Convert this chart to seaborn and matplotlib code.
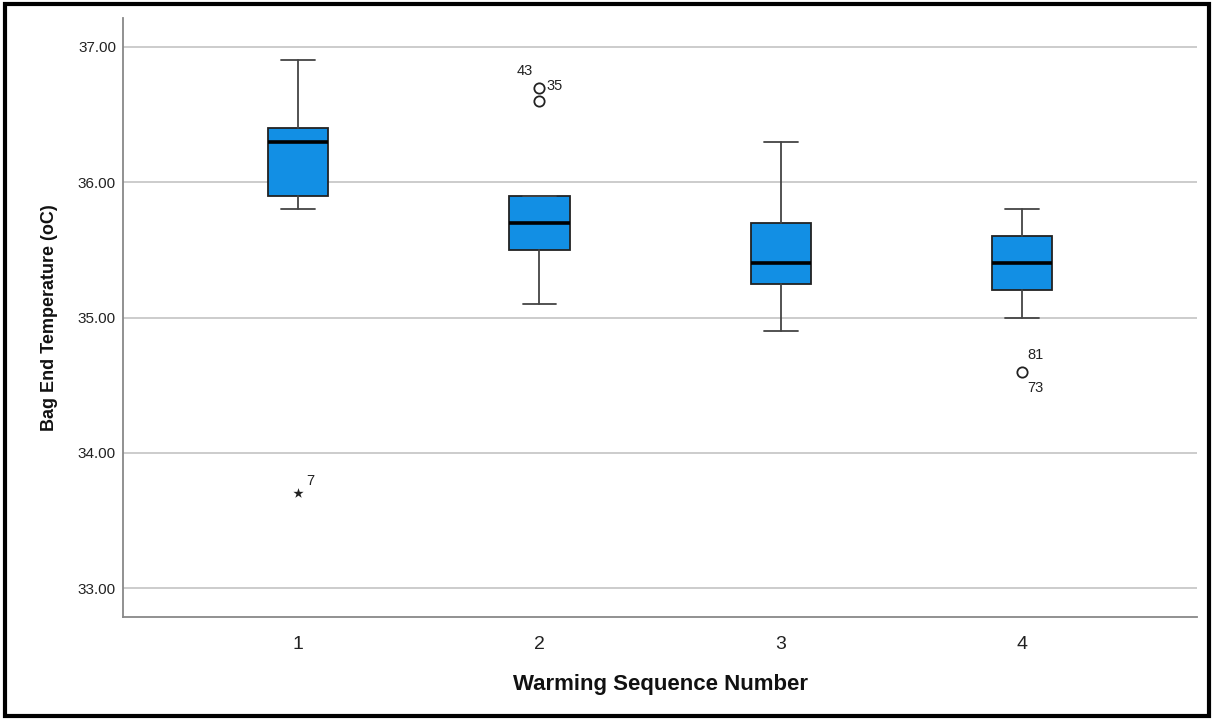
import matplotlib
matplotlib.use("Agg")
import matplotlib.pyplot as plt
import seaborn as sns
import pandas as pd
from matplotlib.patches import Rectangle

# Summary statistics (SPSS style boxplot)
groups = ["1", "2", "3", "4"]
whisker_low = [35.80, 35.10, 34.90, 35.00]
q1 = [35.90, 35.50, 35.25, 35.20]
median = [36.30, 35.70, 35.40, 35.40]
q3 = [36.40, 35.90, 35.70, 35.60]
whisker_high = [36.90, 35.90, 36.30, 35.80]

# Outliers: group, value, case label, marker
out_group = ["1", "2", "2", "4"]
out_value = [33.70, 36.70, 36.60, 34.60]
out_kind = ["extreme", "mild", "mild", "mild"]
label_group = ["1", "2", "2", "4", "4"]
label_value = [33.70, 36.70, 36.70, 34.60, 34.60]
label_text = ["7", "43", "35", "81", "73"]

y_ticks = [33.0, 34.0, 35.0, 36.0, 37.0]

sns.set_style("white")
plt.rcParams["font.family"] = ["Liberation Sans", "DejaVu Sans"]

fig, ax = plt.subplots(figsize=(12.13, 7.2), dpi=100)
fig.subplots_adjust(left=0.1014, right=0.987, top=0.975, bottom=0.143)

box_color = "#128fe4"
stats = []
for i, g in enumerate(groups):
    stats.append({"label": g, "whislo": whisker_low[i], "q1": q1[i], "med": median[i],
                  "q3": q3[i], "whishi": whisker_high[i], "fliers": []})

ax.bxp(stats, positions=range(len(groups)), widths=0.25, patch_artist=True,
       showfliers=False,
       boxprops=dict(facecolor=box_color, edgecolor="#222222", linewidth=1.3),
       medianprops=dict(color="black", linewidth=2.6),
       whiskerprops=dict(color="#444444", linewidth=1.3),
       capprops=dict(color="#444444", linewidth=1.3),
       capwidths=0.14, zorder=3)

df_out = pd.DataFrame({"group": out_group, "value": out_value, "kind": out_kind})
pos = {g: i for i, g in enumerate(groups)}
df_out["x"] = df_out["group"].map(pos)
sns.scatterplot(data=df_out[df_out["kind"] == "mild"], x="x", y="value", ax=ax,
                marker="o", s=55, facecolor="white", edgecolor="#222222",
                linewidth=1.3, zorder=4, legend=False)
sns.scatterplot(data=df_out[df_out["kind"] == "extreme"], x="x", y="value", ax=ax,
                marker="*", s=60, color="#222222", linewidth=0, zorder=4, legend=False)

offsets = {"7": (6, 4, "left", "bottom"), "43": (-5, 7, "right", "bottom"),
           "35": (5, 1, "left", "center"), "81": (4, 7, "left", "bottom"),
           "73": (4, -7, "left", "top")}
for g, v, t in zip(label_group, label_value, label_text):
    dx, dy, ha, va = offsets[t]
    ax.annotate(t, (pos[g], v), xytext=(dx, dy), textcoords="offset points",
                ha=ha, va=va, fontsize=10.5, color="#222222")

ax.set_xlim(-0.726, 3.726)
ax.set_ylim(32.786, 37.214)
ax.set_xticks(range(len(groups)))
ax.set_xticklabels(groups, fontsize=14, color="#222222")
ax.set_yticks(y_ticks)
ax.set_yticklabels([f"{t:.2f}" for t in y_ticks], fontsize=11, color="#222222")
ax.tick_params(axis="both", length=0, pad=5)
ax.tick_params(axis="x", pad=14)
ax.yaxis.grid(True, color="#c8c8c8", linewidth=1.3, zorder=0)
ax.set_axisbelow(True)

for side in ["top", "right"]:
    ax.spines[side].set_visible(False)
for side in ["left", "bottom"]:
    ax.spines[side].set_color("#888888")
    ax.spines[side].set_linewidth(1.3)

ax.set_xlabel("Warming Sequence Number", fontsize=16, fontweight="bold", labelpad=15,
              color="#111111")
ax.set_ylabel("Bag End Temperature (oC)", fontsize=13, fontweight="bold", labelpad=14,
              color="#111111")

# outer black frame like the exported SPSS chart
fig.patches.append(Rectangle((0.004, 0.005), 0.993, 0.989, transform=fig.transFigure,
                             fill=False, edgecolor="black", linewidth=3))

fig.savefig("out.png", dpi=100)
